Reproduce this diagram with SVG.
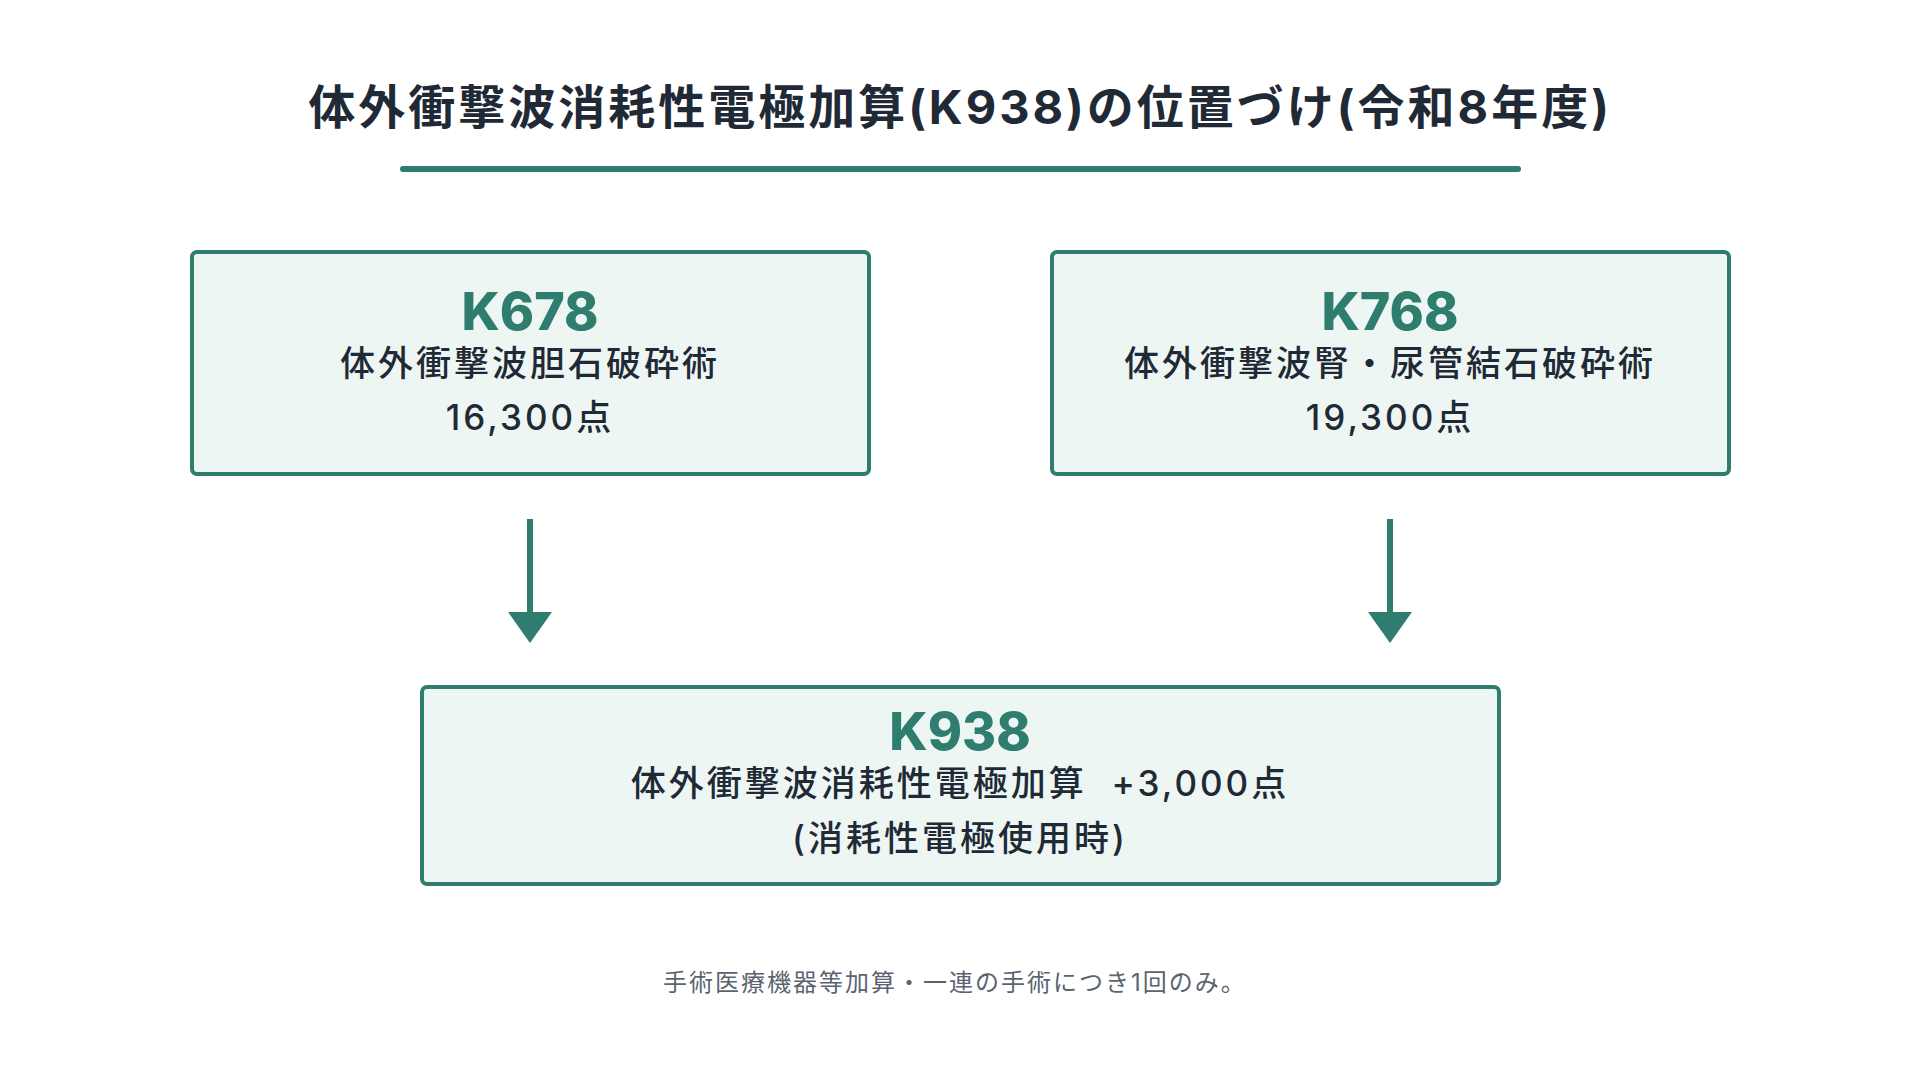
<svg xmlns="http://www.w3.org/2000/svg" width="1920" height="1080" viewBox="0 0 1920 1080">
<style>
text{font-family:"Inter","Noto Sans CJK JP","Noto Sans",sans-serif;text-anchor:middle}
.box{fill:#eef6f4;stroke:#2e7d6e;stroke-width:4}
.code{font-size:52px;font-weight:800;fill:#2e7d6e}
.t{font-size:35px;font-weight:500;fill:#1f2a36;letter-spacing:3px}
.arr{stroke:#2e7d6e;stroke-width:6;fill:none}
.head{fill:#2e7d6e}
</style>
<rect width="1920" height="1080" fill="#fff"/>
<g id="title">
<text x="960" y="124" style="font-size:47px;font-weight:700;fill:#1f2a36;letter-spacing:3px">体外衝撃波消耗性電極加算(K938)の位置づけ(令和8年度)</text>
<rect x="400" y="166" width="1121" height="6" rx="3" fill="#2e7d6e"/>
</g>
<g id="k678">
<rect class="box" x="192" y="252" width="677" height="222" rx="5"/>
<text class="code" x="530" y="330">K678</text>
<text class="t" x="530" y="376">体外衝撃波胆石破砕術</text>
<text class="t" x="530" y="430">16,300点</text>
</g>
<g id="k768">
<rect class="box" x="1052" y="252" width="677" height="222" rx="5"/>
<text class="code" x="1390" y="330">K768</text>
<text class="t" x="1390" y="376">体外衝撃波腎・尿管結石破砕術</text>
<text class="t" x="1390" y="430">19,300点</text>
</g>
<g id="connectors">
<line class="arr" x1="530" y1="519" x2="530" y2="614"/>
<polygon class="head" points="508,612 552,612 530,643"/>
<line class="arr" x1="1390" y1="519" x2="1390" y2="614"/>
<polygon class="head" points="1368,612 1412,612 1390,643"/>
</g>
<g id="k938">
<rect class="box" x="422" y="687" width="1077" height="197" rx="5"/>
<text class="code" x="960" y="750">K938</text>
<text class="t" x="960" y="796" xml:space="preserve">体外衝撃波消耗性電極加算  +3,000点</text>
<text class="t" x="960" y="851">(消耗性電極使用時)</text>
</g>
<g id="note">
<text x="955" y="991" style="font-size:24px;fill:#5a6470;letter-spacing:2px">手術医療機器等加算・一連の手術につき1回のみ。</text>
</g>
</svg>
